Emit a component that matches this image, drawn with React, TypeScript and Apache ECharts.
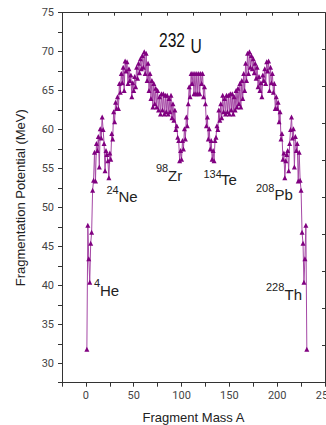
import React, { useEffect, useRef } from "react";
import * as echarts from "echarts";

// Fragmentation potential (MeV) for A = 1 .. 116 (left half)
const potentialLeft = [
  31.8, 47.7, 43.4, 40.4, 45.4, 46.8, 52.2, 53.5, 57.1, 53.4,
  58.2, 57.3, 59.1, 55.2, 60.1, 58.9, 61.6, 60.0, 58.2, 54.7,
  57.3, 56.8, 56.0, 53.8, 57.0, 56.2, 59.5, 58.8, 62.3, 61.0,
  63.5, 62.7, 64.2, 62.7, 65.9, 64.8, 67.2, 66.0, 68.0, 65.0,
  68.8, 67.5, 68.7, 65.9, 67.8, 66.3, 67.0, 64.2, 66.0, 65.0,
  66.8, 65.5, 68.0, 66.6, 68.5, 67.3, 69.1, 67.8, 69.5, 68.0,
  70.0, 67.2, 69.8, 66.3, 68.5, 65.0, 67.2, 64.0, 66.3, 62.9,
  65.9, 63.3, 65.3, 62.9, 65.0, 62.5, 64.2, 62.0, 64.6, 62.5,
  64.6, 62.0, 64.4, 62.3, 64.4, 62.0, 64.0, 62.3, 64.4, 61.5,
  63.3, 61.2, 62.5, 60.0, 60.5, 59.0, 58.6, 56.0, 57.3, 56.2,
  58.6, 57.5, 60.1, 58.8, 61.6, 60.5, 63.3, 65.5, 64.2, 67.2,
  65.9, 67.2, 64.6, 67.2, 64.6, 67.2,
];

// Fragmentation potential (MeV) for A = 117 .. 231 (right half)
const potentialRight = [
  64.6, 67.2, 64.6, 67.2, 65.9, 67.2, 64.2, 65.5, 63.3, 60.5,
  61.6, 58.8, 60.1, 57.5, 58.6, 56.2, 57.3, 56.0, 58.6, 59.0,
  60.5, 60.0, 62.5, 61.2, 63.3, 61.5, 64.4, 62.3, 64.0, 62.0,
  64.4, 62.3, 64.4, 62.0, 64.6, 62.5, 64.6, 62.0, 64.2, 62.5,
  65.0, 62.9, 65.3, 63.3, 65.9, 62.9, 66.3, 64.0, 67.2, 65.0,
  68.5, 66.3, 69.8, 67.2, 70.0, 68.0, 69.5, 67.8, 69.1, 67.3,
  68.5, 66.6, 68.0, 65.5, 66.8, 65.0, 66.0, 64.2, 67.0, 66.3,
  67.8, 65.9, 68.7, 67.5, 68.8, 65.0, 68.0, 66.0, 67.2, 64.8,
  65.9, 62.7, 64.2, 62.7, 63.5, 61.0, 62.3, 58.8, 59.5, 56.2,
  57.0, 53.8, 56.0, 56.8, 57.3, 54.7, 58.2, 60.0, 61.6, 58.9,
  60.1, 55.2, 59.1, 57.3, 58.2, 53.4, 57.1, 53.5, 52.2, 46.8,
  45.4, 40.4, 43.4, 47.7, 31.8,
];

const firstMass = 1;
const xTickLabels = [0, 50, 100, 150, 200, 250];
const yTickLabels = [30, 35, 40, 45, 50, 55, 60, 65, 70, 75];

type Note = { sup: string; main: string; sx: number; sy: number; mx: number; my: number };
const nuclei: Note[] = [
  { sup: "24", main: "Ne", sx: 106.5, sy: 189.5, mx: 118.5, my: 196.5 },
  { sup: "98", main: "Zr", sx: 156, sy: 167.5, mx: 168, my: 175 },
  { sup: "134", main: "Te", sx: 203.5, sy: 173.5, mx: 221, my: 179.5 },
  { sup: "208", main: "Pb", sx: 256, sy: 187.5, mx: 274.5, my: 194.5 },
  { sup: "4", main: "He", sx: 94, sy: 282.5, mx: 100, my: 290 },
  { sup: "228", main: "Th", sx: 266, sy: 287, mx: 284.5, my: 294.5 },
];

export default function App() {
  const ref = useRef<HTMLDivElement>(null);
  useEffect(() => {
    if (!ref.current) return;
    const chart = echarts.init(ref.current, undefined, { renderer: "svg" });
    const potential = [...potentialLeft, ...potentialRight];
    const data = potential.map((v, i) => [firstMass + i, v]);
    const axisColor = "#333";
    const labelColor = "#444";
    const annFont = "Liberation Sans, Arial, sans-serif";

    const graphics: any[] = [
      {
        type: "text", x: 159, y: 40, scaleX: 0.78,
        style: { text: "232", fontSize: 20, fontFamily: annFont, fill: "#111", align: "left", verticalAlign: "middle" },
      },
      {
        type: "text", x: 190.5, y: 46.5, scaleX: 0.78,
        style: { text: "U", fontSize: 20, fontFamily: annFont, fill: "#111", align: "left", verticalAlign: "middle" },
      },
    ];
    nuclei.forEach((n) => {
      graphics.push({
        type: "text", x: n.sx, y: n.sy,
        style: { text: n.sup, fontSize: 11, fontFamily: annFont, fill: "#222", align: "left", verticalAlign: "middle" },
      });
      graphics.push({
        type: "text", x: n.mx, y: n.my,
        style: { text: n.main, fontSize: 15, fontFamily: annFont, fill: "#222", align: "left", verticalAlign: "middle" },
      });
    });

    chart.setOption({
      animation: false,
      backgroundColor: "#fff",
      textStyle: { fontFamily: "Roboto, sans-serif" },
      grid: { left: 62, right: 1, top: 12.7, bottom: 42.3, containLabel: false, outerBoundsMode: "none" },
      xAxis: [
        {
          type: "value", min: -25, max: 250, interval: 25, position: "bottom",
          axisLine: { show: true, onZero: false, lineStyle: { color: axisColor, width: 1 } },
          axisTick: { show: true, inside: false, length: 4, lineStyle: { color: axisColor } },
          axisLabel: {
            color: labelColor, fontSize: 11, margin: 7,
            formatter: (v: number) => (xTickLabels.includes(v) ? String(v) : ""),
          },
          splitLine: { show: false },
          name: "Fragment Mass A", nameLocation: "middle", nameGap: 28.5,
          nameTextStyle: { fontSize: 13, color: "#222", fontFamily: annFont },
        },
        {
          type: "value", min: 0, max: 10, interval: 1, position: "top",
          axisLine: { show: true, onZero: false, lineStyle: { color: axisColor, width: 1 } },
          axisTick: { show: true, inside: true, length: 3, lineStyle: { color: axisColor } },
          axisLabel: { show: false }, splitLine: { show: false },
        },
      ],
      yAxis: [
        {
          type: "value", min: 27.5, max: 75, interval: 2.5, position: "left",
          axisLine: { show: true, onZero: false, lineStyle: { color: axisColor, width: 1 } },
          axisTick: { show: true, inside: false, length: 4, lineStyle: { color: axisColor } },
          axisLabel: {
            color: labelColor, fontSize: 11, margin: 8,
            formatter: (v: number) => (yTickLabels.includes(v) ? String(v) : ""),
          },
          splitLine: { show: false },
          name: "Fragmentation Potential (MeV)", nameLocation: "middle", nameGap: 35,
          nameTextStyle: { fontSize: 13, color: "#222", fontFamily: annFont },
        },
        {
          type: "value", min: 0, max: 10, interval: 1, position: "right",
          axisLine: { show: true, onZero: false, lineStyle: { color: axisColor, width: 1 } },
          axisTick: { show: true, inside: true, length: 3, lineStyle: { color: axisColor } },
          axisLabel: { show: false }, splitLine: { show: false },
        },
      ],
      series: [
        {
          type: "line", xAxisIndex: 0, yAxisIndex: 0, data,
          symbol: "triangle", symbolSize: 5, showAllSymbol: true,
          lineStyle: { color: "#a548a5", width: 1 },
          itemStyle: { color: "#800080" },
        },
      ],
      graphic: graphics,
    });
    return () => chart.dispose();
  }, []);
  return <div ref={ref} style={{ position: "fixed", left: 0, top: 0, width: 326, height: 425 }} />;
}
